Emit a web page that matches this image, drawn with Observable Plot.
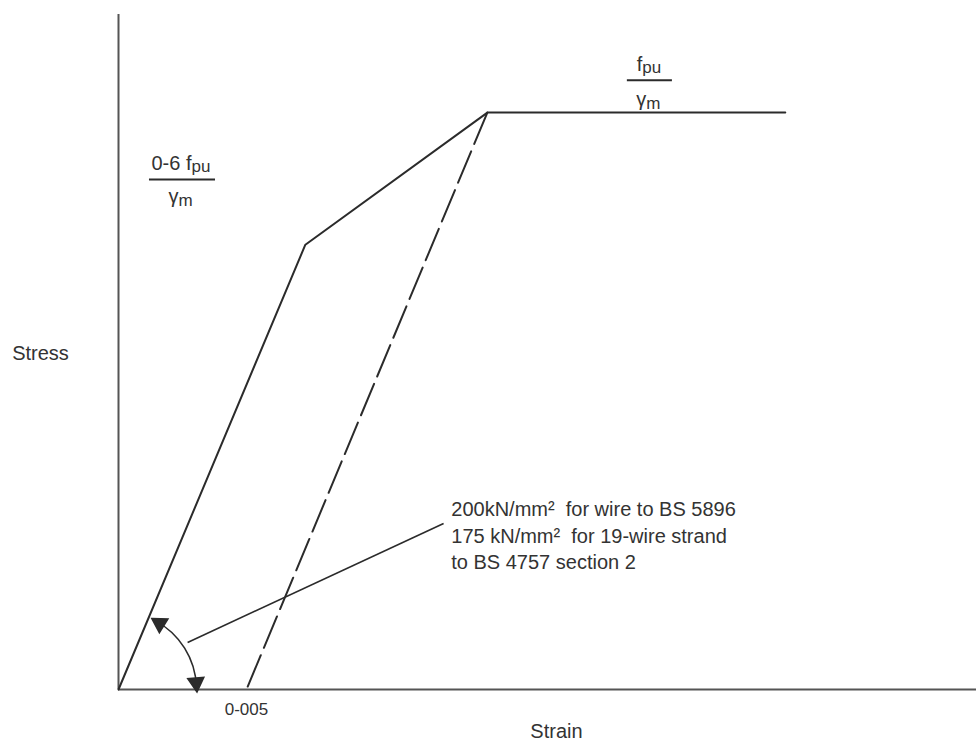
<!DOCTYPE html>
<html>
<head>
<meta charset="utf-8">
<script src="https://cdn.jsdelivr.net/npm/d3@7"></script>
<script src="https://cdn.jsdelivr.net/npm/@observablehq/plot@0.6"></script>
<style>
  html, body { margin: 0; padding: 0; background: #fff; }
  svg text { white-space: pre; }
</style>
</head>
<body>
<div id="chart"></div>
<script>
// ---- data (strain, stress normalised so fpu/γm = 1) ----
const curveStrain = [0, 0.0073, 0.01441, 0.02605];
const curveStress = [0, 0.771, 1, 1];
const unloadStrain = [0.01441, 0.005];
const unloadStress = [1, 0];
const strainMax = 0.03352;
const stressMax = 1.17;
const tickStrain = [0.005];
const tickLabels = ["0-005"];
const xTitle = "Strain";
const yTitle = "Stress";
const noteLines = ["200kN/mm²  for wire to BS 5896", "175 kN/mm²  for 19-wire strand", "to BS 4757 section 2"];
const noteStress = [0.312, 0.265, 0.220];
const noteStrain = 0.0130;
// leader from modulus arc to note
const leaderStrain = [0.0027, 0.0127];
const leaderStress = [0.0815, 0.2877];
// modulus arc (around origin) and its heads
const arcStrain = [0.00143, 0.003045];
const arcStress = [0.1194, 0.0047];
const headStrain = [0.00161, 0.003035];
const headStress = [0.1146, 0.0118];
const headAngle = [-58, 175];
// fraction labels
const fracLeft = {x: 0.00242, num: 0.912, bar: 0.884, den: 0.854, x1: 0.00121, x2: 0.00379};
const fracRight = {x: 0.0207, num: 1.083, bar: 1.056, den: 1.0225, x1: 0.01988, x2: 0.02164};

const curve = curveStrain.map((x, i) => ({x, y: curveStress[i]}));
const unload = unloadStrain.map((x, i) => ({x, y: unloadStress[i]}));
const notes = noteLines.map((t, i) => ({t, x: noteStrain, y: noteStress[i]}));
const heads = headStrain.map((x, i) => ({x, y: headStress[i], a: headAngle[i]}));
const ticks = tickStrain.map((x, i) => ({x, t: tickLabels[i]}));

const ink = "#2b2b2b";
const font = "Liberation Sans, Arial, sans-serif";
const fs = 20;

const chart = Plot.plot({
  width: 976,
  height: 742,
  marginLeft: 118,
  marginRight: 0,
  marginTop: 14,
  marginBottom: 53,
  x: {domain: [0, strainMax], axis: null},
  y: {domain: [0, stressMax], axis: null},
  style: {fontFamily: font, background: "#fff"},
  marks: [
    // axes
    Plot.ruleX([0], {y1: 0, y2: stressMax, stroke: "#555", strokeWidth: 2}),
    Plot.ruleY([0], {x1: 0, x2: strainMax, stroke: "#555", strokeWidth: 2}),
    Plot.text(ticks, {x: "x", y: 0, text: "t", dy: 20, fontSize: 17, fill: "#333"}),
    Plot.text([xTitle], {x: 0.01711, y: 0, dy: 42, fontSize: fs, fill: "#333"}),
    Plot.text([yTitle], {x: 0, y: 0.582, dx: -78, fontSize: fs, fill: "#333"}),
    // curves
    Plot.line(curve, {x: "x", y: "y", stroke: ink, strokeWidth: 2}),
    Plot.line(unload, {x: "x", y: "y", stroke: ink, strokeWidth: 2, strokeDasharray: "34,8"}),
    // modulus arc + heads + leader
    Plot.arrow([0], {x1: arcStrain[0], y1: arcStress[0], x2: arcStrain[1], y2: arcStress[1], bend: 30, headLength: 0, stroke: ink, strokeWidth: 1.6}),
    Plot.dot(heads, {x: "x", y: "y", symbol: "triangle", r: 6, fill: ink, stroke: ink, rotate: "a"}),
    Plot.link([0], {x1: leaderStrain[0], y1: leaderStress[0], x2: leaderStrain[1], y2: leaderStress[1], stroke: ink, strokeWidth: 1.6}),
    Plot.text(notes, {x: "x", y: "y", text: "t", textAnchor: "start", fontSize: fs, fill: "#333"}),
    // left fraction 0-6 fpu / γm
    Plot.text(["0-6 f"], {x: fracLeft.x, y: fracLeft.num, dx: 11, textAnchor: "end", fontSize: fs, fill: "#333"}),
    Plot.text(["pu"], {x: fracLeft.x, y: fracLeft.num, dx: 11, dy: 3, textAnchor: "start", fontSize: 17, fill: "#333"}),
    Plot.ruleY([fracLeft.bar], {x1: fracLeft.x1, x2: fracLeft.x2, stroke: ink, strokeWidth: 2}),
    Plot.text(["γ"], {x: fracLeft.x, y: fracLeft.den, dx: -2, textAnchor: "end", fontSize: fs, fill: "#333"}),
    Plot.text(["m"], {x: fracLeft.x, y: fracLeft.den, dx: -2, dy: 4, textAnchor: "start", fontSize: 17, fill: "#333"}),
    // right fraction fpu / γm
    Plot.text(["f"], {x: fracRight.x, y: fracRight.num, dx: -6, textAnchor: "end", fontSize: fs, fill: "#333"}),
    Plot.text(["pu"], {x: fracRight.x, y: fracRight.num, dx: -6, dy: 3, textAnchor: "start", fontSize: 17, fill: "#333"}),
    Plot.ruleY([fracRight.bar], {x1: fracRight.x1, x2: fracRight.x2, stroke: ink, strokeWidth: 2}),
    Plot.text(["γ"], {x: fracRight.x, y: fracRight.den, dx: -2, textAnchor: "end", fontSize: fs, fill: "#333"}),
    Plot.text(["m"], {x: fracRight.x, y: fracRight.den, dx: -2, dy: 4, textAnchor: "start", fontSize: 17, fill: "#333"})
  ]
});
document.getElementById("chart").appendChild(chart);
</script>
</body>
</html>
